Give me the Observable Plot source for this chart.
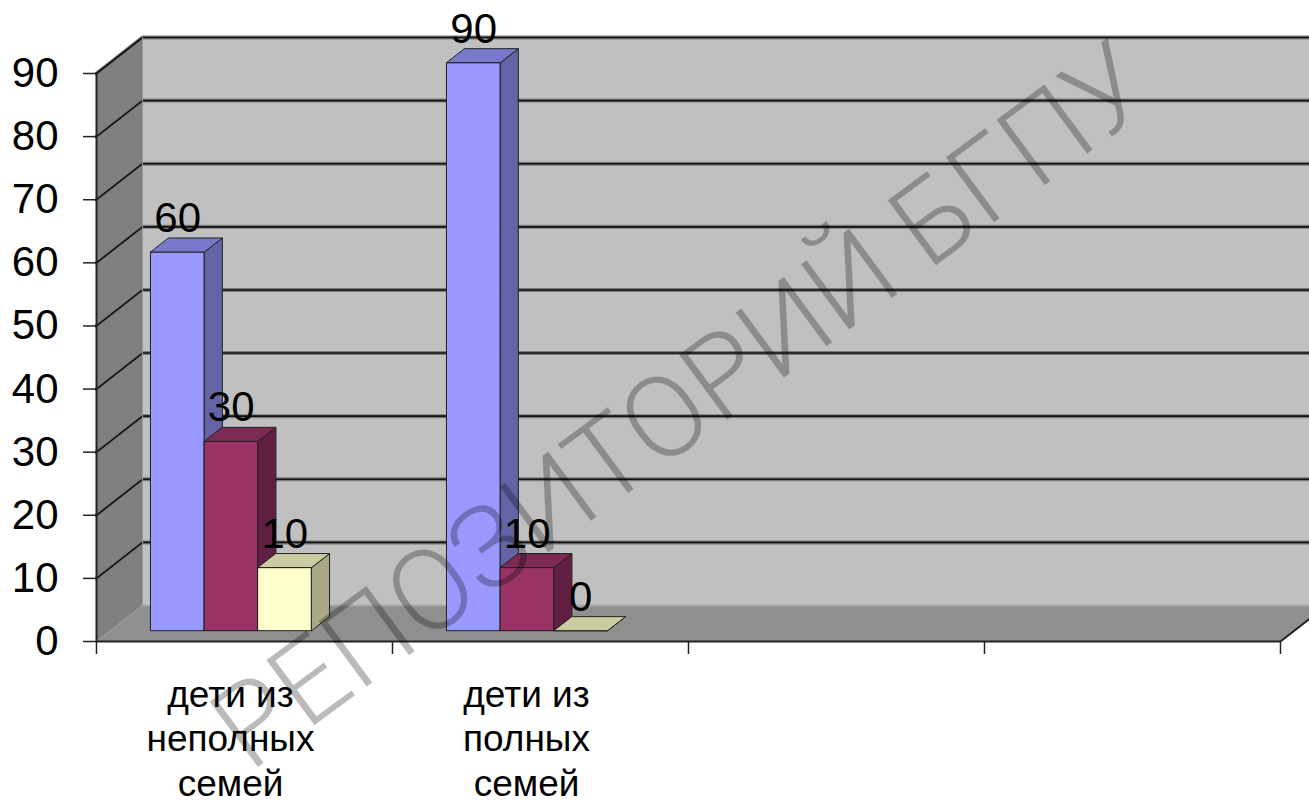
<!DOCTYPE html>
<html><head><meta charset="utf-8">
<script src="https://cdn.jsdelivr.net/npm/d3@7"></script>
<script src="https://cdn.jsdelivr.net/npm/@observablehq/plot@0.6"></script>
<style>
html,body{margin:0;padding:0;background:#fff;overflow:hidden}
#chart svg{display:block}
</style>
</head><body><div id="chart"></div>
<script>
// ---- data ----
const categories = ["дети из\nнеполных\nсемей", "дети из\nполных\nсемей", "", ""];
const seriesNames = ["Ряд 1", "Ряд 2", "Ряд 3"];
const series1 = [60, 90];
const series2 = [30, 10];
const series3 = [10, 0];
const yTicks = [0, 10, 20, 30, 40, 50, 60, 70, 80, 90];
const watermark = "РЕПОЗИТОРИЙ БГПУ";

// ---- layout / style ----
const W = 1309, H = 809, mL = 96, mR = 29, mT = 73, mB = 168;
const pxPerCat = (W - mL - mR) / categories.length;
const pxPerVal = (H - mB - mT) / 90;
const KX = 46 / pxPerCat;      // depth offset in category units
const KY = 36 / pxPerVal;      // depth offset in value units
const P = (c, v, z) => ({x: c + z * KX, y: v + z * KY});
const FONT = "'Liberation Sans', Arial, sans-serif";
const OFF = 0.137, BW = 0.181, Z0 = 0.30, Z1 = 0.69;
const palette = [
  {front: "#9999FF", side: "#6363A6", top: "#7878CC"},
  {front: "#993366", side: "#611F41", top: "#7C2A54"},
  {front: "#FFFFCC", side: "#A9A988", top: "#CBCBA2"}
];
const allSeries = [series1, series2, series3];

const poly = (pts, fill, stroke = "none", sw = 1) =>
  Plot.line(pts, {x: "x", y: "y", curve: "linear-closed", fill, stroke, strokeWidth: sw, strokeLinejoin: "round"});
const path = (pts, stroke, sw) =>
  Plot.line(pts, {x: "x", y: "y", stroke, strokeWidth: sw, strokeLinejoin: "round"});

const nC = categories.length;
const marks = [];
// back wall, side wall, floor
marks.push(poly([P(0,0,1), P(nC,0,1), P(nC,90,1), P(0,90,1)], "#C0C0C0"));
marks.push(poly([P(0,0,0), P(0,0,1), P(0,90,1), P(0,90,0)], "#808080"));
marks.push(poly([P(0,0,0), P(nC,0,0), P(nC,0,1), P(0,0,1)], "#8F8F8F"));
// back floor edge (light)
marks.push(path([P(0,0,1), P(nC,0,1)], "#A8A8A8", 2));
// gridlines
for (const v of yTicks.filter(d => d > 0)) {
  const pts = [P(0,v,0), P(0,v,1), P(nC,v,1)];
  marks.push(path(pts, "#7a7a7a", 4));
  marks.push(path(pts, "#111", 1.6));
}
// side wall back edge
marks.push(path([P(0,0,1), P(0,90,1)], "#9a9a9a", 1));
// frame edges
marks.push(path([P(0,0,0), P(0,90,0)], "#222", 2));
marks.push(path([P(0,0,0), P(nC,0,0), P(nC,0,1)], "#222", 2));

// bars
const labels = [];
for (let i = 0; i < 2; i++) {
  allSeries.forEach((ser, s) => {
    const v = ser[i];
    const c0 = i + OFF + s * BW, c1 = c0 + BW;
    const col = palette[s];
    marks.push(poly([P(c0,0,Z0), P(c1,0,Z0), P(c1,v,Z0), P(c0,v,Z0)], col.front, "#222", 1));
    marks.push(poly([P(c1,0,Z0), P(c1,0,Z1), P(c1,v,Z1), P(c1,v,Z0)], col.side, "#222", 1));
    marks.push(poly([P(c0,v,Z0), P(c1,v,Z0), P(c1,v,Z1), P(c0,v,Z1)], col.top, "#222", 1));
    labels.push({x: (c0 + c1) / 2 + Z0 * KX, y: v + Z1 * KY, text: String(v), series: seriesNames[s]});
  });
}

// watermark
marks.push(Plot.text([watermark], {
  text: d => d, frameAnchor: "middle", dx: -6, dy: 50, rotate: -36.5,
  fontSize: 114, fontFamily: "Roboto, 'Liberation Sans', sans-serif", fontWeight: 300,
  fill: "#000", fillOpacity: 0.27
}));

// value labels
marks.push(Plot.text(labels, {x: "x", y: "y", text: "text", lineAnchor: "bottom", dy: -6,
  fontSize: 42, fontFamily: FONT, fill: "#000"}));

// axes
marks.push(Plot.axisY(yTicks, {tickSize: 13, tickPadding: 25, fontSize: 42, fontFamily: FONT,
  stroke: "#222", strokeWidth: 1.5, fill: "#000", label: null, tickFormat: d => String(d)}));
marks.push(Plot.axisX(d3.range(nC + 1), {tickSize: 13, stroke: "#222", strokeWidth: 1.5,
  tickFormat: () => "", label: null}));
marks.push(Plot.axisX(d3.range(nC).map(i => i + 0.5), {tickSize: 0, tickPadding: 34, dx: -14,
  fontSize: 37, lineHeight: 1.2, fontFamily: FONT, fill: "#000", label: null,
  tickFormat: d => categories[Math.floor(d)]}));

const chart = Plot.plot({
  width: W, height: H,
  marginLeft: mL, marginRight: mR, marginTop: mT, marginBottom: mB,
  x: {domain: [0, nC]},
  y: {domain: [0, 90]},
  style: {fontFamily: FONT, background: "#fff", overflow: "visible"},
  marks
});
document.getElementById("chart").appendChild(chart);
</script>
</body></html>
